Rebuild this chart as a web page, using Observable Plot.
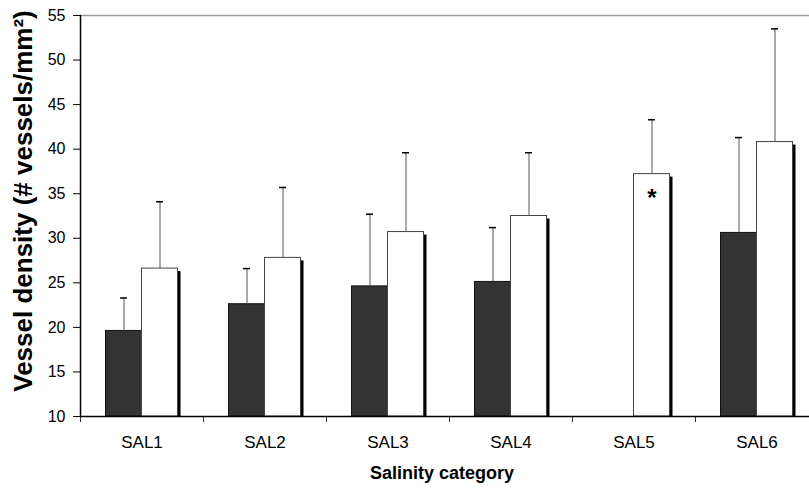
<!DOCTYPE html>
<html>
<head>
<meta charset="utf-8">
<script src="https://cdn.jsdelivr.net/npm/d3@7"></script>
<script src="https://cdn.jsdelivr.net/npm/@observablehq/plot@0.6"></script>
<style>
  html, body { margin: 0; padding: 0; background: #fff; }
  svg { font-family: Arial, "Liberation Sans", sans-serif; }
</style>
</head>
<body>
<div id="chart"></div>
<script>
const categories = ["SAL1", "SAL2", "SAL3", "SAL4", "SAL5", "SAL6"];
const darkMean = [19.6, 22.6, 24.6, 25.1, null, 30.6];
const darkUpper = [23.3, 26.6, 32.7, 31.2, null, 41.3];
const whiteMean = [26.6, 27.8, 30.7, 32.5, 37.2, 40.8];
const whiteUpper = [34.1, 35.7, 39.6, 39.6, 43.3, 53.5];
const yTicks = [10, 15, 20, 25, 30, 35, 40, 45, 50, 55];
const markers = [{cat: "SAL5", label: "*"}];

(function () {
const dark = categories.map((c, i) => ({cat: c, mean: darkMean[i], upper: darkUpper[i]})).filter(d => d.mean != null);
const white = categories.map((c, i) => ({cat: c, mean: whiteMean[i], upper: whiteUpper[i]}));
const markerData = markers.map(m => ({...m, mean: whiteMean[categories.indexOf(m.cat)]}));

const mLeft = 80, mRightEdge = 818, mTop = 15, mBottom = 416;
const bw = (mRightEdge - mLeft) / categories.length; // 123
const barW = 36;
const pairStart = (bw - 2 * barW) / 2;
const darkL = pairStart, darkR = darkL + barW;
const whiteL = darkR, whiteR = whiteL + barW;
const darkC = (darkL + darkR) / 2 - bw / 2;
const whiteC = (whiteL + whiteR) / 2 - bw / 2;
const capHalf = 3.5;

const chart = Plot.plot({
  width: 809,
  height: 491,
  marginLeft: mLeft,
  marginTop: mTop,
  marginBottom: 491 - mBottom,
  marginRight: 0,
  style: {fontFamily: 'Arial, "Liberation Sans", sans-serif', fontSize: "16px", color: "#000", background: "#fff"},
  x: {domain: categories, range: [mLeft, mRightEdge], paddingInner: 0, paddingOuter: 0, align: 0.5},
  y: {domain: [10, 55]},
  marks: [
    Plot.ruleY([55], {stroke: "#999", strokeWidth: 1.5}),
    // shadows
    Plot.barY(white, {x: "cat", y1: 10, y2: "mean", fill: "#000", insetTop: 3, insetLeft: whiteR, insetRight: bw - whiteR - 3}),
    // dark bars
    Plot.barY(dark, {x: "cat", y1: 10, y2: "mean", fill: "#333", stroke: "#111", strokeWidth: 1, insetLeft: darkL, insetRight: bw - darkR}),
    // white bars
    Plot.barY(white, {x: "cat", y1: 10, y2: "mean", fill: "#fff", stroke: "#444", strokeWidth: 1, insetLeft: whiteL, insetRight: bw - whiteR}),
    // error bars
    Plot.ruleX(dark, {x: "cat", y1: "mean", y2: "upper", dx: darkC, stroke: "#555", strokeWidth: 1}),
    Plot.ruleX(white, {x: "cat", y1: "mean", y2: "upper", dx: whiteC, stroke: "#555", strokeWidth: 1}),
    Plot.tickY(dark, {x: "cat", y: "upper", stroke: "#000", strokeWidth: 1.5, insetLeft: bw / 2 + darkC - capHalf, insetRight: bw / 2 - darkC - capHalf}),
    Plot.tickY(white, {x: "cat", y: "upper", stroke: "#000", strokeWidth: 1.5, insetLeft: bw / 2 + whiteC - capHalf, insetRight: bw / 2 - whiteC - capHalf}),
    Plot.text(markerData, {x: "cat", y: "mean", text: "label", dx: whiteC, dy: 24, fontSize: 24, fontWeight: "bold", fill: "#000"}),
    // axes
    Plot.axisY({ticks: yTicks, tickSize: 7, tickPadding: 8, label: null, stroke: "#000", fontSize: 16}),
    Plot.ruleX([categories[0]], {x: d => d, dx: -bw / 2, y1: 10, y2: 55, stroke: "#000", strokeWidth: 1.5}),
    Plot.axisX({tickSize: 0, tickPadding: 19, label: null, fontSize: 17}),
    Plot.axisX({tickSize: 6, tickFormat: () => "", label: null, dx: -bw / 2, stroke: "#333"}),
    Plot.ruleY([10], {stroke: "#000", strokeWidth: 1.5}),
    Plot.text(["Vessel density (# vessels/mm²)"], {frameAnchor: "left", textAnchor: "middle", dx: -57, dy: -15, rotate: -90, fontSize: 26, fontWeight: "bold", fill: "#000"}),
    Plot.text(["Salinity category"], {frameAnchor: "bottom", textAnchor: "middle", dx: -3, dy: 62, fontSize: 18, fontWeight: "bold", fill: "#000"})
  ]
});
document.getElementById("chart").appendChild(chart);
})();
</script>
</body>
</html>
